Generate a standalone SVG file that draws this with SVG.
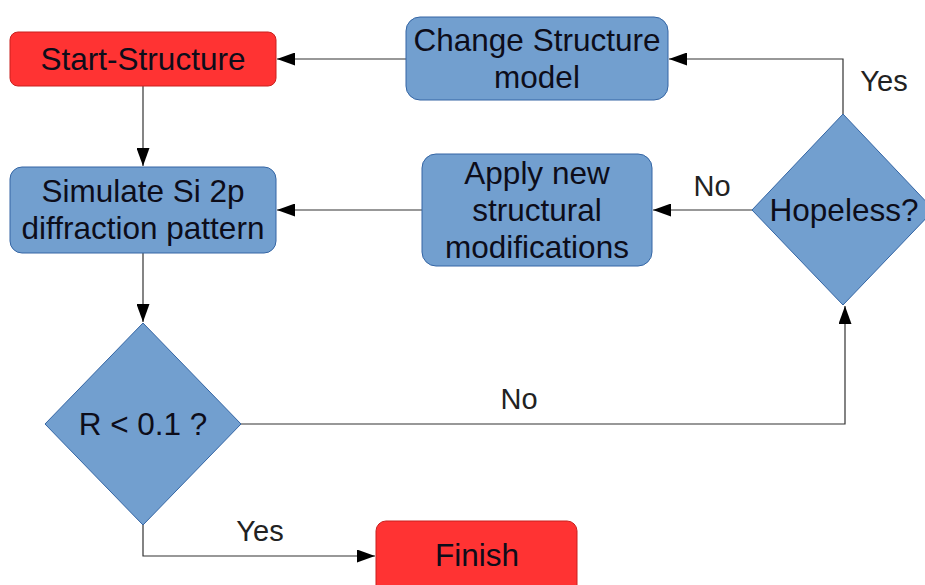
<svg xmlns="http://www.w3.org/2000/svg" width="925" height="585" viewBox="0 0 925 585">
<style>
.box{fill:#729fcf;stroke:#3465a4;stroke-width:1}
.red{fill:#ff3333;stroke:#c9211e;stroke-width:1}
.t{font-family:"Liberation Sans",Arial,sans-serif;font-size:31.5px;fill:#0d0d1a;text-anchor:middle}
.lbl{font-family:"Liberation Sans",Arial,sans-serif;font-size:29px;fill:#222;text-anchor:middle}
.c{fill:none;stroke:#333;stroke-width:1.2}
</style>
<defs>
<marker id="ah" markerWidth="18" markerHeight="13" refX="18" refY="6.5" orient="auto" markerUnits="userSpaceOnUse">
<path d="M0,0 L18,6.5 L0,13 Z" fill="#000"/>
</marker>
</defs>
<rect width="925" height="585" fill="#fff"/>
<g id="connectors">
<path class="c" d="M406,59 L277,59" marker-end="url(#ah)"/>
<path class="c" d="M143,86 L143,166" marker-end="url(#ah)"/>
<path class="c" d="M143,253 L143,322" marker-end="url(#ah)"/>
<path class="c" d="M843,114 L843,59 L669,59" marker-end="url(#ah)"/>
<path class="c" d="M752,210 L653,210" marker-end="url(#ah)"/>
<path class="c" d="M422,210 L277,210" marker-end="url(#ah)"/>
<path class="c" d="M241,424 L845,424 L845,306" marker-end="url(#ah)"/>
<path class="c" d="M143,525 L143,556 L375,556" marker-end="url(#ah)"/>
<text class="lbl" x="884" y="91">Yes</text>
<text class="lbl" x="712" y="196">No</text>
<text class="lbl" x="519" y="409">No</text>
<text class="lbl" x="260" y="541">Yes</text>
</g>
<g id="start">
<rect class="red" x="10" y="32" width="266" height="54" rx="8"/>
<text class="t" x="143" y="70">Start-Structure</text>
</g>
<g id="change">
<rect class="box" x="406" y="17" width="262" height="83" rx="14"/>
<text class="t" x="537" y="51">Change Structure</text>
<text class="t" x="537" y="88">model</text>
</g>
<g id="simulate">
<rect class="box" x="10" y="167" width="266" height="86" rx="12"/>
<text class="t" x="143" y="202">Simulate Si 2p</text>
<text class="t" x="143" y="239">diffraction pattern</text>
</g>
<g id="apply">
<rect class="box" x="422" y="154" width="230" height="112" rx="14"/>
<text class="t" x="537" y="184">Apply new</text>
<text class="t" x="537" y="221">structural</text>
<text class="t" x="537" y="258">modifications</text>
</g>
<g id="hopeless">
<path class="box" d="M843,114 L934,210 L843,305 L752,210 Z"/>
<text class="t" x="844" y="221">Hopeless?</text>
</g>
<g id="rcheck">
<path class="box" d="M143,323 L241,424 L143,525 L45,424 Z"/>
<text class="t" x="143" y="435">R &lt; 0.1 ?</text>
</g>
<g id="finish">
<rect class="red" x="376" y="521" width="201" height="80" rx="10"/>
<text class="t" x="477" y="566">Finish</text>
</g>
</svg>
